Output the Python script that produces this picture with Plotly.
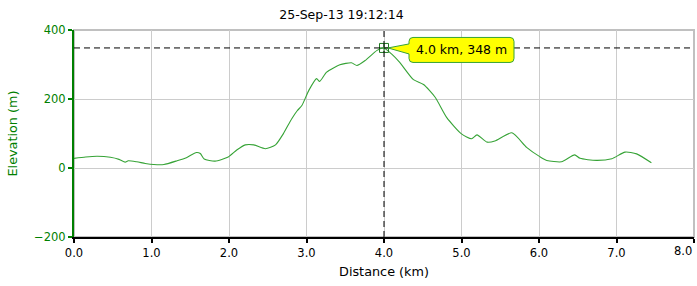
import plotly.graph_objects as go

# distance (km) and elevation (m)
dist = [0.00, 0.15, 0.30, 0.47, 0.58, 0.66, 0.70, 0.81, 0.92, 1.03, 1.16, 1.33, 1.45, 1.58, 1.63, 1.68, 1.82, 1.99,
        2.10, 2.21, 2.32, 2.47, 2.60, 2.70, 2.81, 2.88, 2.94, 3.03, 3.13, 3.17, 3.26, 3.43, 3.58, 3.65, 3.76, 3.91, 4.00,
        4.10, 4.20, 4.38, 4.51, 4.66, 4.81, 5.00, 5.13, 5.20, 5.33, 5.43, 5.65, 5.84, 6.01, 6.10, 6.29, 6.46, 6.53,
        6.74, 6.94, 7.11, 7.26, 7.45]
elev = [28, 32, 34, 31, 25, 17, 21, 18, 13, 10, 10, 21, 30, 45, 42, 26, 20, 32,
        52, 67, 67, 56, 67, 99, 143, 166, 181, 225, 259, 251, 278, 299, 305, 297, 312, 341, 348,
        330, 307, 256, 242, 205, 146, 99, 85, 96, 75, 78, 102, 60, 33, 22, 18, 38, 28,
        22, 27, 46, 41, 15]

cursor_x = 4.0
cursor_y = 348
title = "25-Sep-13 19:12:14"
x_ticks = [0, 1, 2, 3, 4, 5, 6, 7, 8]
y_ticks = [-200, 0, 200, 400]

FONT = "Verdana, DejaVu Sans, sans-serif"
GREEN = "#008000"
LINE_GREEN = "#36a336"

X_RANGE = [0, 8]
Y_RANGE = [-200, 400]
L, R, T, B = 74, 3, 30, 49
W, H = 697, 286
px_per_km = (W - L - R) / (X_RANGE[1] - X_RANGE[0])
m_per_px = (Y_RANGE[1] - Y_RANGE[0]) / (H - T - B)

fig = go.Figure()
fig.add_trace(go.Scatter(x=dist, y=elev, mode="lines",
                         line=dict(color=LINE_GREEN, width=1.1, shape="spline", smoothing=0.6),
                         hoverinfo="skip", showlegend=False))

# crosshair
fig.add_shape(type="line", xref="paper", x0=0, x1=1, y0=cursor_y, y1=cursor_y,
              line=dict(color="black", width=1, dash="6px,4px"))
fig.add_shape(type="line", yref="paper", y0=0, y1=1, x0=cursor_x, x1=cursor_x,
              line=dict(color="black", width=1, dash="6px,4px"))

fig.add_trace(go.Scatter(x=[cursor_x], y=[cursor_y], mode="markers",
                         marker=dict(symbol="square-cross-open", size=9, color="#1f7a1f", line=dict(width=1)),
                         showlegend=False, hoverinfo="skip"))

# callout: rounded yellow box with a pointer to the point
def dx(p):
    return p / px_per_km

def dy(p):
    return p * m_per_px

bx0 = cursor_x + dx(25)
bx1 = cursor_x + dx(130)
yc = cursor_y - dy(2)
by0 = yc - dy(12.5)
by1 = yc + dy(12.5)
r = 4
path = (f"M {cursor_x + dx(4)},{cursor_y} "
        f"L {bx0},{yc + dy(6)} "
        f"L {bx0},{by1 - dy(r)} Q {bx0},{by1} {bx0 + dx(r)},{by1} "
        f"L {bx1 - dx(r)},{by1} Q {bx1},{by1} {bx1},{by1 - dy(r)} "
        f"L {bx1},{by0 + dy(r)} Q {bx1},{by0} {bx1 - dx(r)},{by0} "
        f"L {bx0 + dx(r)},{by0} Q {bx0},{by0} {bx0},{by0 + dy(r)} "
        f"L {bx0},{yc - dy(4)} Z")
fig.add_shape(type="path", path=path, fillcolor="yellow", line=dict(color=LINE_GREEN, width=1))

fig.add_annotation(x=(bx0 + bx1) / 2, y=yc, text=f"{cursor_x:.1f} km, {cursor_y} m", showarrow=False,
                   xanchor="center", yanchor="middle",
                   font=dict(family=FONT, size=12.5, color="black"))

# last x tick label drawn left-aligned to the edge (as in the original)
fig.add_annotation(x=x_ticks[-1], y=0, yref="paper", text=f"{x_ticks[-1]:.1f}", showarrow=False,
                   xanchor="right", yanchor="top", yshift=-5,
                   font=dict(family=FONT, size=11.5, color="black"))

fig.update_layout(
    width=W, height=H,
    margin=dict(l=L, r=R, t=T, b=B),
    paper_bgcolor="white", plot_bgcolor="white",
    title=dict(text=title, x=341.5 / W, xref="container", xanchor="center", y=0.95, yanchor="middle",
               font=dict(family=FONT, size=12.5, color="black")),
    font=dict(family=FONT, size=11.5),
)
fig.update_xaxes(range=X_RANGE, tickvals=x_ticks,
                 ticktext=[f"{v:.1f}" if v != x_ticks[-1] else "" for v in x_ticks],
                 showgrid=True, gridcolor="#cccccc", gridwidth=1,
                 showline=True, linecolor="black", linewidth=2, mirror=False,
                 ticks="outside", ticklen=4, tickcolor="black", tickwidth=2,
                 tickfont=dict(family=FONT, size=11.5, color="black"),
                 title=dict(text="Distance (km)", font=dict(family=FONT, size=12.8, color="black"), standoff=8),
                 zeroline=False)
fig.update_yaxes(range=Y_RANGE, tickvals=y_ticks,
                 showgrid=True, gridcolor="#cccccc", gridwidth=1,
                 showline=True, linecolor=GREEN, linewidth=2,
                 ticks="outside", ticklen=4, tickcolor=GREEN, tickwidth=2,
                 tickfont=dict(family=FONT, size=11.5, color=GREEN),
                 title=dict(text="Elevation (m)", font=dict(family=FONT, size=12.8, color=GREEN), standoff=14),
                 zeroline=False)
# frame
fig.add_shape(type="rect", xref="paper", yref="paper", x0=0, x1=1, y0=0, y1=1,
              line=dict(color="#c0c0c0", width=2), layer="below")

fig.write_html("out.html")
